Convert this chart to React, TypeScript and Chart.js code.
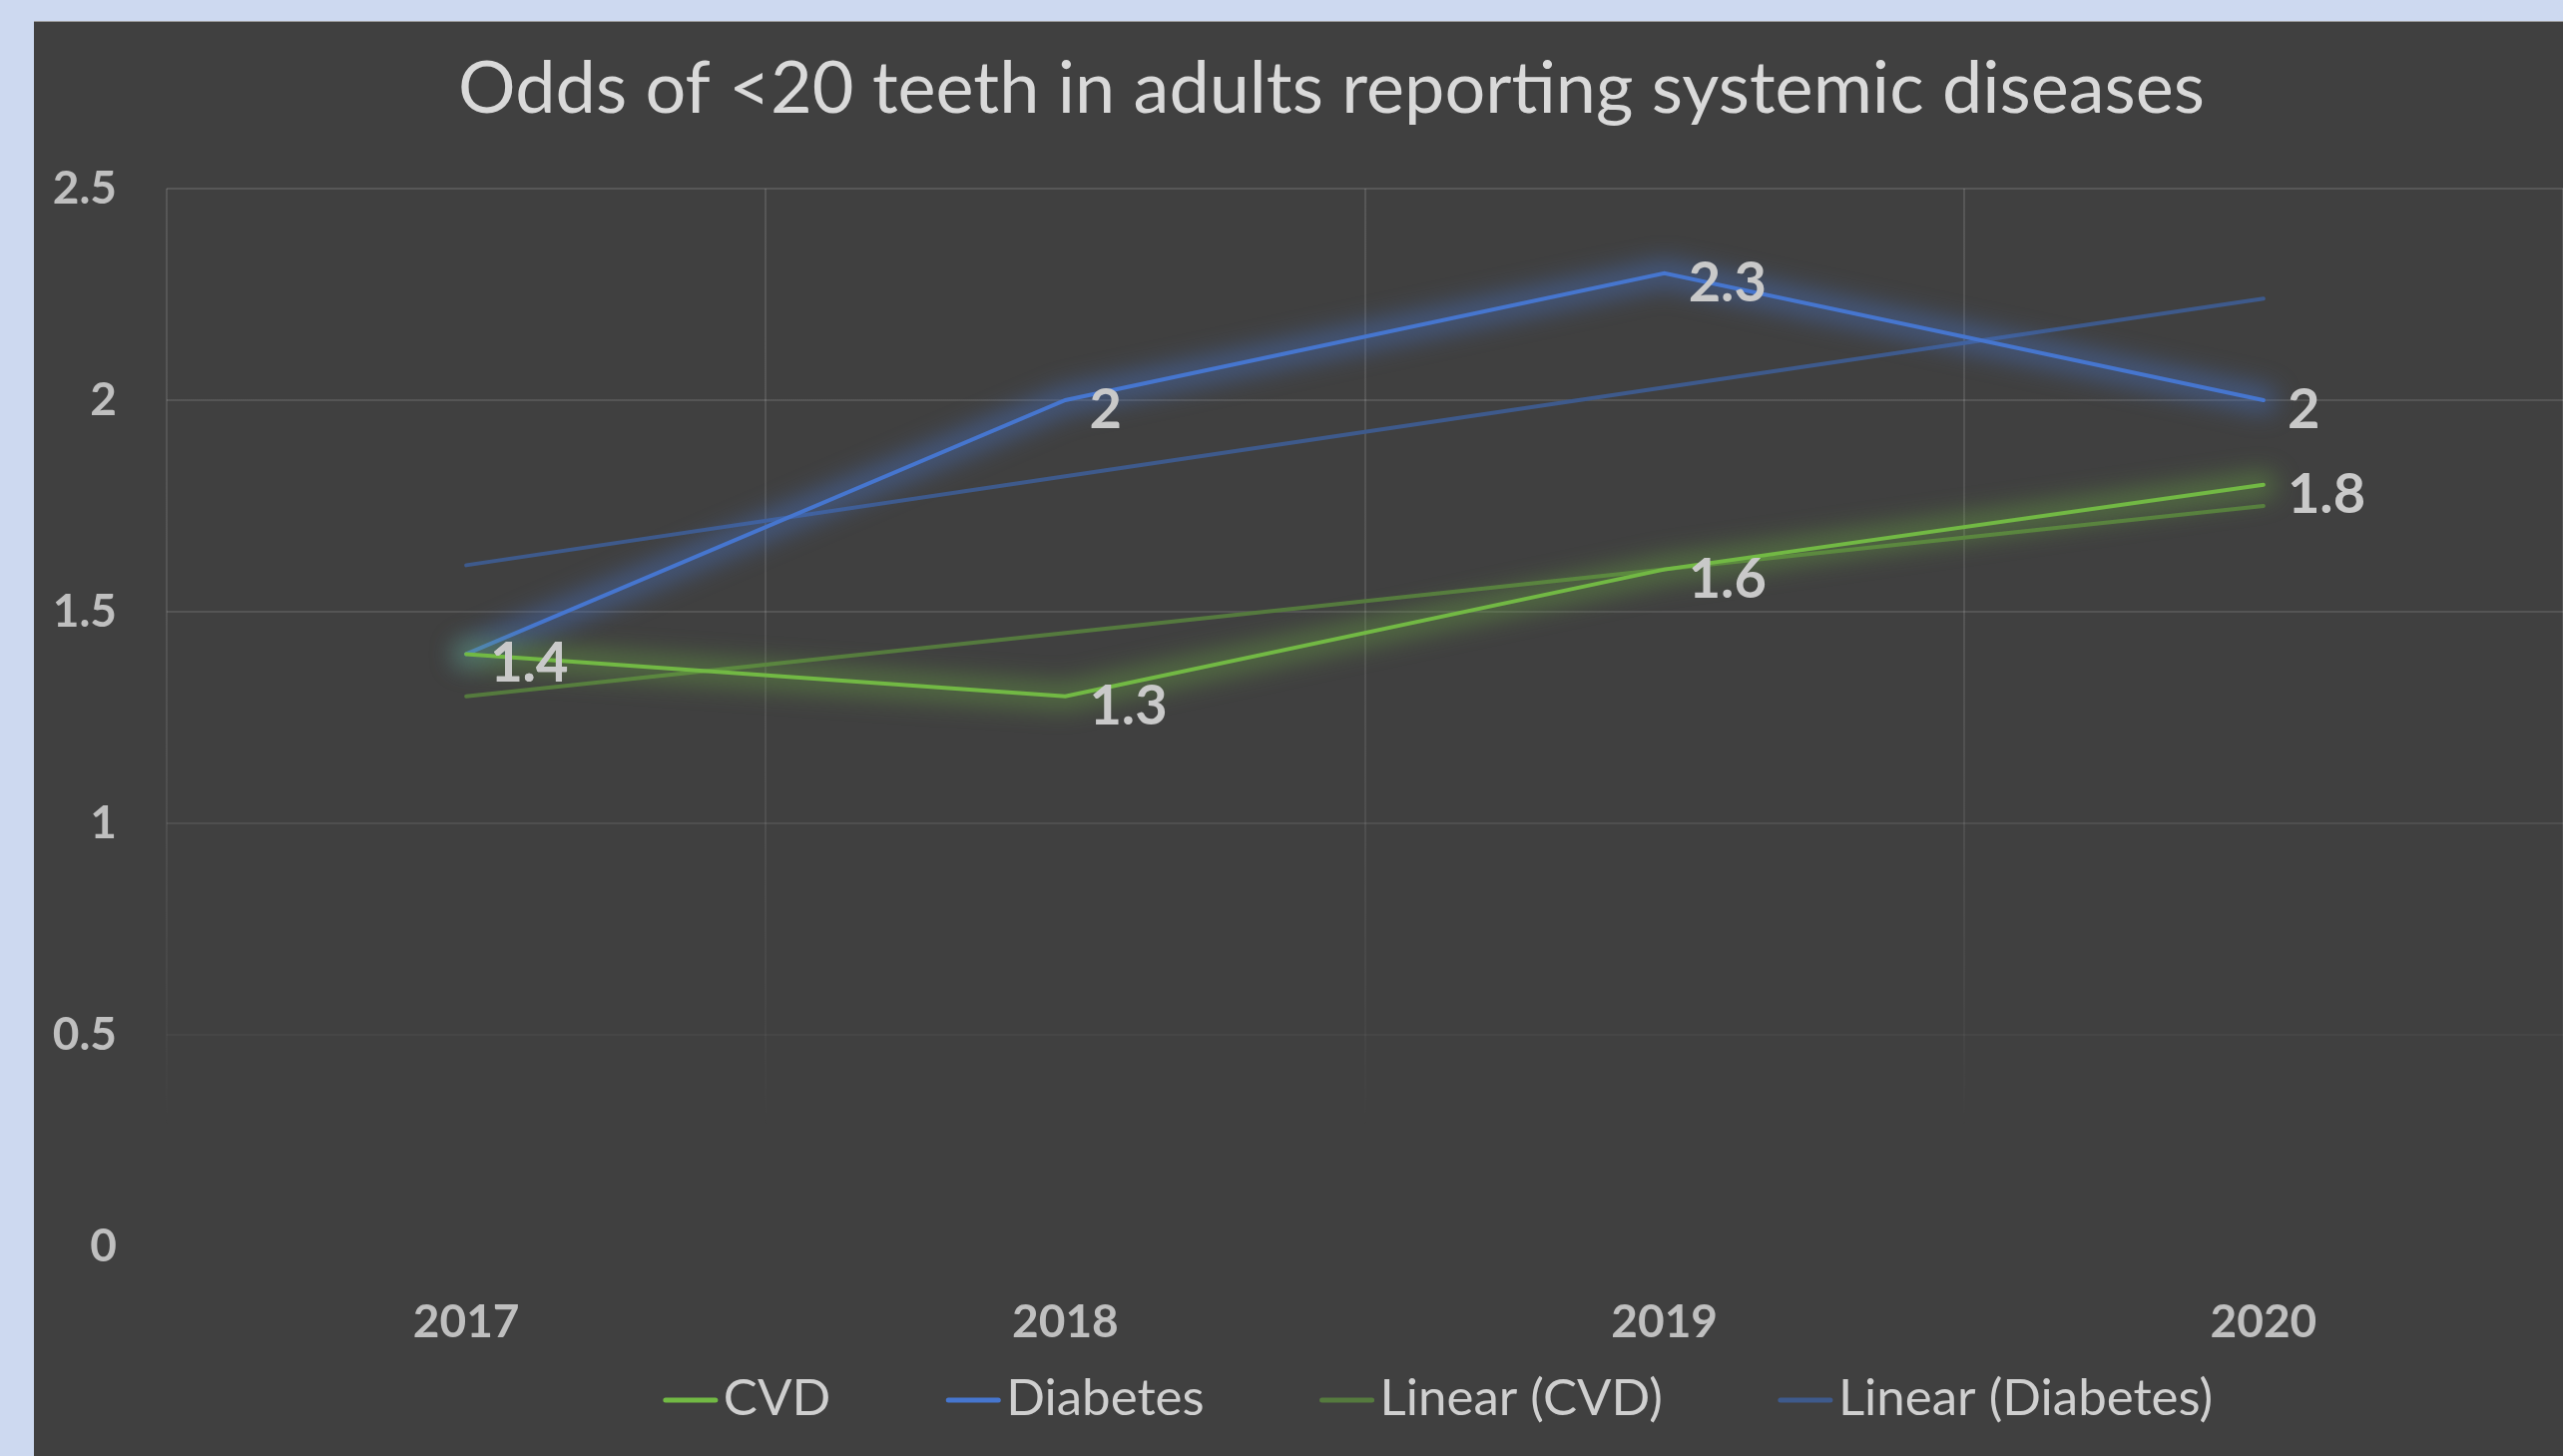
import React, { useEffect, useRef } from 'react';
import { Chart, registerables } from 'chart.js';

Chart.register(...registerables);

const years = ['2017', '2018', '2019', '2020'];
const cvd = [1.4, 1.3, 1.6, 1.8];
const diabetes = [1.4, 2.0, 2.3, 2.0];
const linearCvd = [1.3, 1.45, 1.6, 1.75];
const linearDiabetes = [1.61, 1.82, 2.03, 2.24];
const yTicks = [0, 0.5, 1, 1.5, 2, 2.5];
const chartTitle = 'Odds of <20 teeth in adults reporting systemic diseases';
const seriesNames = ['CVD', 'Diabetes', 'Linear (CVD)', 'Linear (Diabetes)'];
const seriesColors = ['#72b944', '#4676cf', '#557a3e', '#3e5a8c'];
const glowColors = ['rgba(112,185,68,0.38)', 'rgba(70,118,207,0.45)', '', ''];
const showLabels = [true, true, false, false];

const PANEL_W = 2534;
const PANEL_H = 1437;
const FONT = 'Lato, "Open Sans", "Noto Sans", sans-serif';

let gradCache: CanvasGradient | null = null;
let gradKey = '';
function gridColor(c: any) {
  const chart = c.chart;
  const ca = chart.chartArea;
  if (!ca) return 'rgba(255,255,255,0.12)';
  const key = ca.top + '-' + ca.bottom;
  if (!gradCache || gradKey !== key) {
    const g = chart.ctx.createLinearGradient(0, ca.top, 0, ca.bottom);
    g.addColorStop(0, 'rgba(255,255,255,0.12)');
    g.addColorStop(0.4, 'rgba(255,255,255,0.11)');
    g.addColorStop(0.6, 'rgba(255,255,255,0.08)');
    g.addColorStop(0.8, 'rgba(255,255,255,0.03)');
    g.addColorStop(0.89, 'rgba(255,255,255,0)');
    g.addColorStop(1, 'rgba(255,255,255,0)');
    gradCache = g;
    gradKey = key;
  }
  return gradCache;
}

const glowPlugin = {
  id: 'glow',
  beforeDatasetDraw(chart: any, args: any) {
    const c = glowColors[args.index];
    if (!c) return;
    const ctx = chart.ctx;
    const pts = chart.getDatasetMeta(args.index).data;
    if (!pts.length) return;
    ctx.save();
    ctx.filter = 'blur(12px)';
    ctx.strokeStyle = c;
    ctx.lineWidth = 26;
    ctx.lineJoin = 'round';
    ctx.lineCap = 'round';
    ctx.beginPath();
    pts.forEach((p: any, i: number) => {
      if (i === 0) ctx.moveTo(p.x, p.y);
      else ctx.lineTo(p.x, p.y);
    });
    ctx.stroke();
    ctx.restore();
  },
};

const labelPlugin = {
  id: 'valueLabels',
  afterDatasetsDraw(chart: any) {
    const ctx = chart.ctx;
    ctx.save();
    ctx.font = `bold 56px ${FONT}`;
    ctx.fillStyle = '#c9c9c9';
    ctx.textAlign = 'left';
    ctx.textBaseline = 'middle';
    chart.data.datasets.forEach((ds: any, i: number) => {
      if (!showLabels[i]) return;
      const meta = chart.getDatasetMeta(i);
      meta.data.forEach((pt: any, j: number) => {
        ctx.fillText(String(ds.data[j]), pt.x + 24, pt.y + 10);
      });
    });
    ctx.restore();
  },
};

const titleLegendPlugin = {
  id: 'titleLegend',
  afterDraw(chart: any) {
    const ctx = chart.ctx;
    ctx.save();
    // title
    ctx.font = `72px ${FONT}`;
    ctx.fillStyle = '#d9d9d9';
    ctx.textAlign = 'center';
    ctx.textBaseline = 'middle';
    ctx.fillText(chartTitle, 1300, 68);

    // legend
    ctx.font = `51px ${FONT}`;
    const widths = seriesNames.map((n) => ctx.measureText(n).width);
    const sample = 54;
    const gap = 6;
    const itemGap = 116;
    const total =
      widths.reduce((a, w) => a + sample + gap + w, 0) + itemGap * (seriesNames.length - 1);
    let x = 1407 - total / 2;
    const y = 1381;
    ctx.textAlign = 'left';
    seriesNames.forEach((name, i) => {
      ctx.beginPath();
      ctx.lineCap = 'round';
      ctx.lineWidth = 5;
      ctx.strokeStyle = seriesColors[i];
      ctx.moveTo(x + 2, y);
      ctx.lineTo(x + sample - 2, y);
      ctx.stroke();
      x += sample + gap;
      ctx.fillStyle = '#cfcfcf';
      ctx.fillText(name, x, y - 1);
      x += widths[i] + itemGap;
    });
    ctx.restore();
  },
};

export default function App() {
  const ref = useRef<HTMLCanvasElement | null>(null);

  useEffect(() => {
    document.body.style.margin = '0';
    document.body.style.background = '#cdd9f0';
    const canvas = ref.current;
    if (!canvas) return;
    const series = [cvd, diabetes, linearCvd, linearDiabetes];
    const chart = new Chart(canvas, {
      type: 'line',
      data: {
        labels: years,
        datasets: series.map((d, i) => ({
          label: seriesNames[i],
          data: d,
          borderColor: seriesColors[i],
          backgroundColor: seriesColors[i],
          borderWidth: 4,
          pointRadius: 0,
          pointHoverRadius: 0,
          fill: false,
          tension: 0,
          borderCapStyle: 'round',
          borderJoinStyle: 'miter',
        })),
      },
      options: {
        animation: false,
        responsive: false,
        devicePixelRatio: 1,
        events: [],
        layout: { padding: { top: 167, left: 0, right: 0, bottom: 110 } },
        plugins: {
          legend: { display: false },
          title: { display: false },
          tooltip: { enabled: false },
        },
        scales: {
          x: {
            type: 'category',
            offset: true,
            grid: { offset: true, color: gridColor as any, lineWidth: 2, drawTicks: false },
            border: { display: false },
            ticks: {
              color: '#bfbfbf',
              font: { family: FONT, size: 46, weight: 'bold' },
              padding: 49,
              maxRotation: 0,
            },
            afterFit: (s: any) => {
              s.height = 100;
            },
          },
          y: {
            min: 0,
            max: 2.5,
            grid: { color: gridColor as any, lineWidth: 2, drawTicks: false },
            border: { display: false },
            ticks: {
              stepSize: 0.5,
              color: '#bfbfbf',
              font: { family: FONT, size: 46, weight: 'bold' },
              padding: 50,
              callback: (v: any) => String(Number(v)),
            },
            afterBuildTicks: (s: any) => {
              s.ticks = yTicks.map((v) => ({ value: v }));
            },
            afterFit: (s: any) => {
              s.width = 133;
            },
          },
        },
      },
      plugins: [glowPlugin, labelPlugin, titleLegendPlugin],
    } as any);
    return () => chart.destroy();
  }, []);

  return (
    <div
      style={{
        position: 'relative',
        width: 2568,
        height: 1459,
        background: '#cdd9f0',
        overflow: 'hidden',
      }}
    >
      <div
        style={{
          position: 'absolute',
          left: 34,
          top: 21,
          width: PANEL_W,
          height: PANEL_H + 1,
          background: '#404040',
          borderTop: '1px solid #9a9a9a',
          boxSizing: 'border-box',
        }}
      >
        <canvas ref={ref} width={PANEL_W} height={PANEL_H} style={{ display: 'block' }} />
      </div>
    </div>
  );
}
